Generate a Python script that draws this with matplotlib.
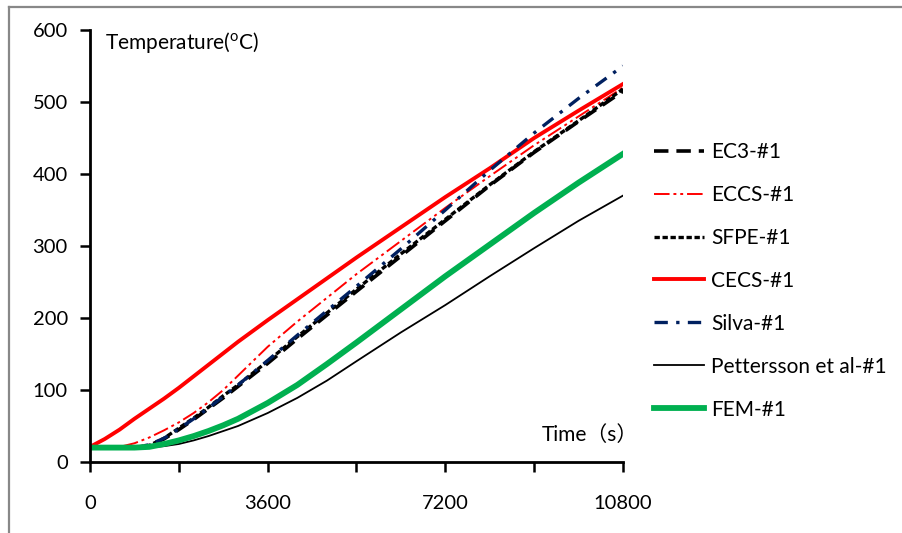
import numpy as np
import matplotlib
matplotlib.use("Agg")
import matplotlib.pyplot as plt
from matplotlib.lines import Line2D

plt.rcParams['font.family'] = ['Lato', 'Noto Sans CJK SC', 'DejaVu Sans']
plt.rcParams['mathtext.default'] = 'regular'

# time points (s)
t = [0, 300, 600, 900, 1200, 1500, 1800, 2100, 2400, 2700, 3000, 3600,
     4200, 4800, 5400, 6300, 7200, 8100, 9000, 9900, 10800]

# steel temperature (C)
ec3 = [20, 20, 20, 20, 23, 32, 45, 59, 74, 89, 105, 137,
       171, 204, 237, 286, 335, 384, 430, 473, 515]
eccs = [20, 20, 21, 26, 34, 44, 55, 68, 83, 100, 120, 160,
        195, 228, 261, 307, 353, 397, 440, 480, 520]
sfpe = [20, 20, 20, 20, 23, 33, 47, 61, 76, 92, 107, 140,
        174, 207, 240, 289, 337, 385, 431, 474, 518]
cecs = [21, 32, 45, 60, 74, 88, 103, 119, 135, 151, 167, 197,
        226, 255, 284, 326, 368, 408, 450, 488, 525]
silva = [20, 20, 20, 20, 24, 33, 46, 60, 75, 91, 107, 141,
         176, 210, 244, 296, 350, 405, 457, 505, 550]
pettersson = [20, 20, 19, 19, 20, 22, 25, 30, 36, 43, 50, 68,
              89, 113, 140, 180, 218, 258, 297, 335, 370]
fem = [20, 20, 20, 20, 21, 25, 30, 36, 43, 51, 60, 82,
       107, 136, 166, 212, 258, 302, 346, 388, 428]

labels = ["EC3-#1", "ECCS-#1", "SFPE-#1", "CECS-#1", "Silva-#1",
          "Pettersson et al-#1", "FEM-#1"]

fig = plt.figure(figsize=(9.03, 5.33), dpi=100)
ax = fig.add_axes([90/903, 71/533, 533/903, 432/533])

ax.plot(t, ec3, color='black', lw=2.6, dashes=(4, 2.2), label=labels[0])
ax.plot(t, eccs, color='red', lw=1.4, dashes=(8, 2, 1.5, 2, 1.5, 2), label=labels[1])
ax.plot(t, sfpe, color='black', lw=2.4, dashes=(1.6, 0.8), label=labels[2])
ax.plot(t, cecs, color='#ff0000', lw=2.8, label=labels[3])
ax.plot(t, silva, color='#002060', lw=2.4, dashes=(4, 2.5, 1, 2.5), label=labels[4])
ax.plot(t, pettersson, color='black', lw=1.3, label=labels[5])
ax.plot(t, fem, color='#00b050', lw=4.2, label=labels[6])

ax.set_xlim(0, 10800)
ax.set_ylim(0, 600)
ax.set_xticks(np.arange(0, 10801, 1800))
ax.set_xticklabels(['0', '', '3600', '', '7200', '', '10800'])
ax.set_yticks(np.arange(0, 601, 100))
for s in ['top', 'right']:
    ax.spines[s].set_visible(False)
for s in ['left', 'bottom']:
    ax.spines[s].set_linewidth(2)
ax.tick_params(axis='both', direction='out', length=7, width=1.8, labelsize=14.5)
ax.tick_params(axis='x', pad=17)
ax.tick_params(axis='y', pad=9)

ax.text(300, 582, 'Temperature($^{o}$C)', fontsize=15, va='center', ha='left')
ax.text(9150, 37, 'Time（s）', fontsize=15, va='center', ha='left')

ax.legend(loc='upper left', bbox_to_anchor=(654/903, 1 - 142/533),
          bbox_transform=fig.transFigure, frameon=False, fontsize=15,
          handlelength=2.4, handletextpad=0.35, labelspacing=1.1,
          borderpad=0, borderaxespad=0)

# grey frame around the picture
fig.add_artist(Line2D([8.5/903, 1], [1 - 6.5/533, 1 - 6.5/533],
                      transform=fig.transFigure, color='#888888', lw=1.6))
fig.add_artist(Line2D([8.5/903, 8.5/903], [0, 1 - 6.5/533],
                      transform=fig.transFigure, color='#888888', lw=1.6))

fig.savefig("out.png", dpi=100)
